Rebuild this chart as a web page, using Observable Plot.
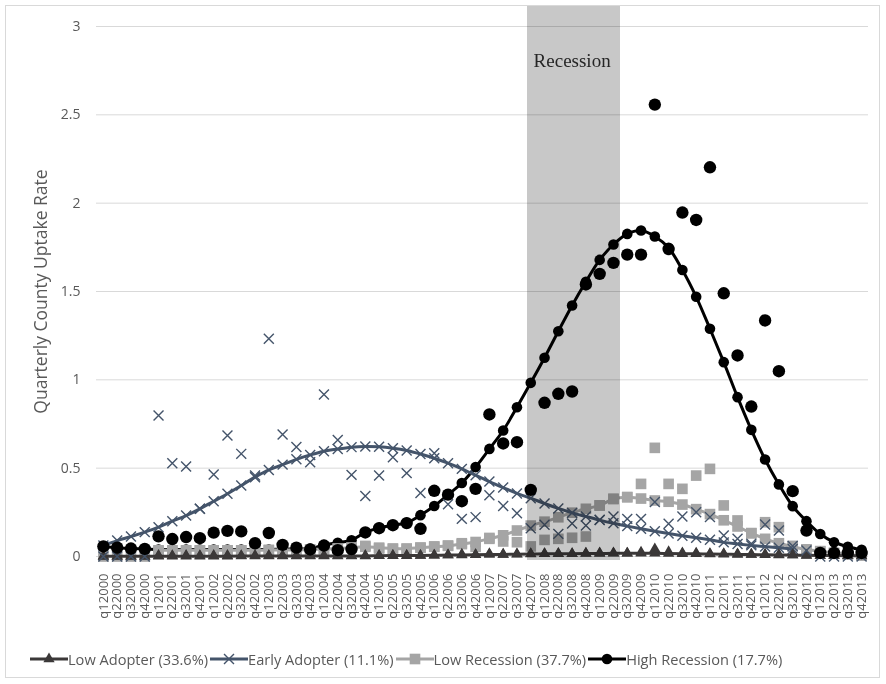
<!DOCTYPE html>
<html>
<head>
<meta charset="utf-8">
<script src="https://cdn.jsdelivr.net/npm/d3@7"></script>
<script src="https://cdn.jsdelivr.net/npm/@observablehq/plot@0.6"></script>
<style>
  html, body { margin: 0; padding: 0; background: #fff; }
  #page { position: relative; width: 886px; height: 684px; overflow: hidden; background: #fff; }
  #frame { position: absolute; left: 5px; top: 5px; width: 875px; height: 673px; border: 1px solid #d9d9d9; box-sizing: border-box; }
  #chart { position: absolute; left: 0; top: 0; }
  #legend { position: absolute; left: 30px; top: 649px; display: flex; align-items: center; gap: 2px;
            font-family: "Open Sans", sans-serif; font-size: 14.6px; color: #595959; white-space: nowrap; }
  .item { display: flex; align-items: center; }
  .item svg { display: block; }
</style>
</head>
<body>
<div id="page">
  <div id="frame"></div>
  <div id="chart"></div>
  <div id="legend"></div>
</div>
<script>
// ---------- data ----------
const quarters = [
  "q12000","q22000","q32000","q42000","q12001","q22001","q32001","q42001",
  "q12002","q22002","q32002","q42002","q12003","q22003","q32003","q42003",
  "q12004","q22004","q32004","q42004","q12005","q22005","q32005","q42005",
  "q12006","q22006","q32006","q42006","q12007","q22007","q32007","q42007",
  "q12008","q22008","q32008","q42008","q12009","q22009","q32009","q42009",
  "q12010","q22010","q32010","q42010","q12011","q22011","q32011","q42011",
  "q12012","q22012","q32012","q42012","q12013","q22013","q32013","q42013"
];
const yTicks = [0, 0.5, 1, 1.5, 2, 2.5, 3];
const recessionQuarters = ["q42007","q12008","q22008","q32008","q42008","q12009","q22009"];
const recessionLabel = "Recession";
const yTitle = "Quarterly County Uptake Rate";

const seriesNames = ["Low Adopter (33.6%)", "Early Adopter (11.1%)", "Low Recession (37.7%)", "High Recession (17.7%)"];
const seriesColors = ["#3b3838", "#44546a", "#a5a5a5", "#000000"];

// fitted (line) series
const lowAdopterFit = [
  0.002,0.002,0.002,0.002,0.002,0.002,0.002,0.002,0.002,0.002,
  0.003,0.003,0.003,0.003,0.003,0.003,0.003,0.003,0.003,0.003,
  0.004,0.005,0.005,0.006,0.007,0.008,0.009,0.010,0.011,0.012,
  0.013,0.014,0.015,0.016,0.016,0.017,0.017,0.018,0.018,0.018,
  0.018,0.017,0.016,0.015,0.014,0.013,0.012,0.011,0.010,0.009,
  0.008,0.007,0.006,0.005,0.004,0.003
];
const earlyAdopterFit = [
  0.062,0.090,0.113,0.138,0.166,0.200,0.232,0.270,0.313,0.355,
  0.402,0.449,0.490,0.520,0.550,0.575,0.596,0.609,0.619,0.623,
  0.621,0.613,0.600,0.580,0.556,0.528,0.496,0.460,0.424,0.390,
  0.357,0.330,0.300,0.272,0.247,0.226,0.206,0.188,0.172,0.157,
  0.143,0.130,0.118,0.106,0.095,0.080,0.071,0.063,0.056,0.049,
  0.043,null,null,null,null,null
];
const lowRecessionFit = [
  null,null,null,null,0.035,0.035,0.035,0.035,0.035,0.035,
  0.035,0.035,0.037,0.037,0.037,0.040,0.042,0.045,0.050,0.055,
  0.050,0.045,0.045,0.050,0.055,0.060,0.070,0.082,0.100,0.120,
  0.147,0.175,0.197,0.222,0.248,0.270,0.289,0.326,0.336,0.328,
  0.317,0.310,0.294,0.268,0.240,0.205,0.170,0.132,0.100,0.075,
  0.055,0.040,0.030,0.020,0.012,0.006
];
const highRecessionFit = [
  0.057,0.050,0.045,0.043,0.040,0.040,0.040,0.040,0.040,0.040,
  0.040,0.040,0.040,0.043,0.043,0.045,0.065,0.078,0.092,0.136,
  0.162,0.177,0.191,0.234,0.286,0.350,0.416,0.506,0.609,0.713,
  0.845,0.983,1.125,1.275,1.421,1.555,1.679,1.766,1.826,1.845,
  1.811,1.747,1.622,1.470,1.289,1.100,0.902,0.717,0.549,0.408,
  0.285,0.200,0.127,0.081,0.055,0.038
];

// raw (scatter) series
const lowAdopterRaw = [
  0,0,0,0,0.005,0.004,0.005,0.004,0.005,0.005,
  0.004,0.005,0.005,0.004,0.005,0.005,0.005,0.004,0.005,0.005,
  0.006,0.005,0.006,0.006,0.007,0.008,0.012,0.010,0.015,0.012,
  0.014,0.016,0.015,0.017,0.016,0.018,0.020,0.020,0.018,0.024,
  0.042,0.026,0.020,0.018,0.016,0.015,0.014,0.012,0.012,0.010,
  0.008,0.006,0.004,0.004,0.004,0.004
];
const earlyAdopterRaw = [
  0,0,0,0,0.798,0.528,0.509,0.270,0.464,0.685,
  0.581,0.458,1.232,0.690,0.620,0.534,0.917,0.660,0.462,0.342,
  0.458,0.562,0.472,0.360,0.585,0.296,0.213,0.223,0.347,0.286,
  0.245,0.160,0.180,0.128,0.187,0.175,0.208,0.226,0.213,0.213,
  0.308,0.185,0.226,0.251,0.223,0.119,0.100,0.072,0.181,0.147,
  0.060,0.034,0,0,0,0
];
const lowRecessionRaw = [
  0,0,0,0,0.033,0.034,0.033,0.034,0.033,0.035,
  0.034,0.034,0.036,0.035,0.036,0.038,0.040,0.044,0.050,0.060,
  0.045,0.043,0.043,0.050,0.057,0.062,0.075,0.055,0.105,0.085,
  0.081,0.057,0.094,0.100,0.106,0.113,0.289,0.326,0.336,0.411,
  0.615,0.411,0.383,0.458,0.496,0.289,0.204,0.132,0.194,0.166,
  0.060,0.040,0.030,0.020,0.012,0.006
];
const highRecessionRaw = [
  0.057,0.050,0.045,0.043,0.114,0.099,0.110,0.104,0.135,0.145,
  0.142,0.075,0.133,0.066,0.050,0.040,0.062,0.036,0.042,0.136,
  0.160,0.177,0.189,0.157,0.372,0.350,0.313,0.383,0.804,0.640,
  0.647,0.377,0.870,0.921,0.934,1.540,1.600,1.662,1.709,1.709,
  2.558,1.740,1.947,1.905,2.203,1.490,1.138,0.849,1.336,1.049,
  0.370,0.147,0.020,0.020,0.020,0.020
];

// ---------- helpers ----------
const num = v => (v == null ? NaN : v);
const rowsOf = arr => quarters.map((q, i) => ({q, v: num(arr[i])}));

const laF = rowsOf(lowAdopterFit), eaF = rowsOf(earlyAdopterFit),
      lrF = rowsOf(lowRecessionFit), hrF = rowsOf(highRecessionFit);
const laR = rowsOf(lowAdopterRaw), eaR = rowsOf(earlyAdopterRaw),
      lrR = rowsOf(lowRecessionRaw), hrR = rowsOf(highRecessionRaw);

const [cLA, cEA, cLR, cHR] = seriesColors;
const sym = {
  tri:  {symbol: "triangle", r: 4.2},
  x:    {symbol: "times", r: 4.6},
  sq:   {symbol: "square", r: 6.0},
  circ: {symbol: "circle", r: 5.3}
};
const bandStyle = {y1: -0.023, y2: 3.113, fill: "#c8c8c8", mixBlendMode: "multiply", shapeRendering: "crispEdges"};

const chart = Plot.plot({
  width: 886,
  height: 640,
  marginLeft: 96,
  marginRight: 18,
  marginTop: 26,
  marginBottom: 84,
  style: {fontFamily: "'Open Sans', sans-serif", color: "#595959", background: "transparent", overflow: "visible"},
  x: {type: "band", domain: quarters, padding: 0, axis: null},
  y: {domain: [0, 3], axis: null},
  marks: [
    Plot.ruleY(yTicks, {stroke: "#d9d9d9", strokeWidth: 1}),
    Plot.text(yTicks, {y: d => d, text: d => String(d), frameAnchor: "left", textAnchor: "end", dx: -16, fontSize: 14, fill: "#595959"}),
    Plot.text(quarters, {x: d => d, text: d => d, frameAnchor: "bottom", rotate: -90, textAnchor: "end", lineAnchor: "middle", dy: 17, fontSize: 13, fill: "#595959"}),
    Plot.text([yTitle], {text: d => d, frameAnchor: "left", rotate: -90, textAnchor: "middle", lineAnchor: "middle", dx: -55, fontSize: 17.5, fill: "#595959"}),

    // High Recession fitted
    Plot.line(hrF, {x: "q", y: "v", stroke: cHR, strokeWidth: 3, curve: "catmull-rom"}),
    Plot.dot(hrF, {x: "q", y: "v", fill: cHR, ...sym.circ}),
    // Low Recession fitted + raw
    Plot.line(lrF, {x: "q", y: "v", stroke: cLR, strokeWidth: 3, curve: "catmull-rom"}),
    Plot.dot(lrF, {x: "q", y: "v", fill: cLR, ...sym.sq}),
    Plot.dot(lrR, {x: "q", y: "v", fill: cLR, ...sym.sq}),
    // Early Adopter fitted
    Plot.line(eaF, {x: "q", y: "v", stroke: cEA, strokeWidth: 3, curve: "catmull-rom"}),
    Plot.dot(eaF, {x: "q", y: "v", stroke: cEA, strokeWidth: 1.4, ...sym.x}),
    // Low Adopter fitted + raw
    Plot.line(laF, {x: "q", y: "v", stroke: cLA, strokeWidth: 3, curve: "catmull-rom"}),
    Plot.dot(laF, {x: "q", y: "v", fill: cLA, ...sym.tri}),
    Plot.dot(laR, {x: "q", y: "v", fill: cLA, ...sym.tri}),
    // Early Adopter raw
    Plot.dot(eaR, {x: "q", y: "v", stroke: cEA, strokeWidth: 1.4, ...sym.x}),
    // High Recession raw
    Plot.dot(hrR, {x: "q", y: "v", fill: cHR, symbol: "circle", r: 6.2}),

    // recession band (first quarter starts a little inside its band)
    Plot.barY(recessionQuarters.slice(0, 1), {x: d => d, ...bandStyle, insetLeft: 3.5, insetRight: 0}),
    Plot.barY(recessionQuarters.slice(1), {x: d => d, ...bandStyle, inset: 0}),
    Plot.text([recessionLabel], {x: () => recessionQuarters[3], text: d => d, frameAnchor: "top", lineAnchor: "middle",
      dy: 34, fontSize: 19, fontFamily: "'Liberation Serif', 'Times New Roman', serif", fill: "#262626"})
  ]
});
document.getElementById("chart").appendChild(chart);

// ---------- legend ----------
const legendSymbols = [d3.symbolTriangle, d3.symbolTimes, d3.symbolSquare, d3.symbolCircle];
const legendR = [4.2, 4.6, 6.0, 5.3];
const legend = d3.select("#legend");
seriesNames.forEach((name, k) => {
  const item = legend.append("div").attr("class", "item");
  const s = item.append("svg").attr("width", 38).attr("height", 16);
  s.append("line").attr("x1", 0).attr("x2", 38).attr("y1", 8).attr("y2", 8)
    .attr("stroke", seriesColors[k]).attr("stroke-width", 3);
  const p = s.append("path")
    .attr("d", d3.symbol().type(legendSymbols[k]).size(legendR[k] * legendR[k] * Math.PI)())
    .attr("transform", "translate(19,8)");
  if (k === 1) p.attr("fill", "none").attr("stroke", seriesColors[k]).attr("stroke-width", 1.4);
  else p.attr("fill", seriesColors[k]);
  item.append("span").text(name);
});
</script>
</body>
</html>
